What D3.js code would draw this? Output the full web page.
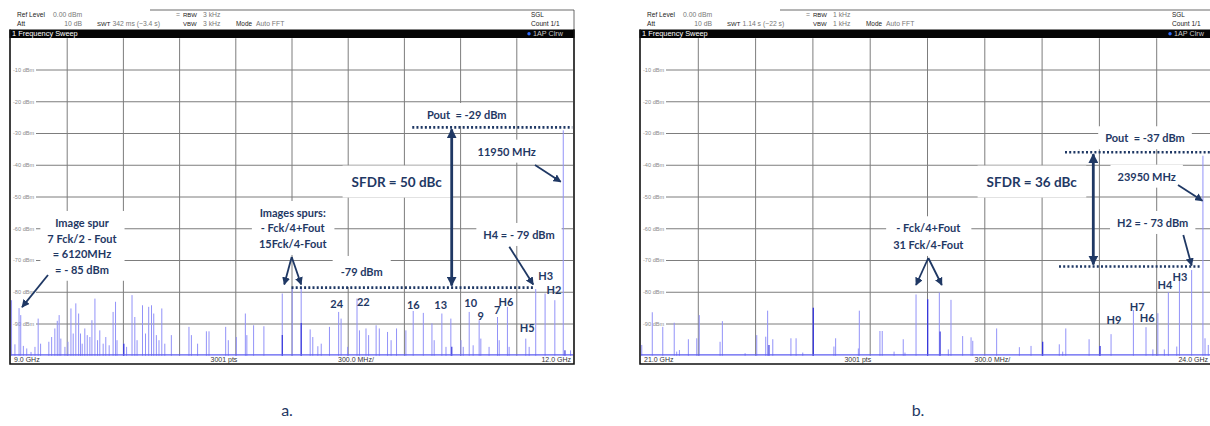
<!DOCTYPE html>
<html>
<head>
<meta charset="utf-8">
<script src="https://cdn.jsdelivr.net/npm/d3@7"></script>
<style>
  body { margin: 0; background: #fff; }
  svg { display: block; }
  .pre { white-space: pre; }
</style>
</head>
<body>
<svg id="chart" width="1210" height="426"></svg>
<script>
// ---------- Sweep a: 9.0 – 12.0 GHz ----------
const spurFreqA = [
  9.003, 9.021, 9.043, 9.052, 9.066, 9.084, 9.107, 9.128, 9.145, 9.158,
  9.202, 9.217, 9.234, 9.247, 9.257, 9.266, 9.288, 9.304, 9.320, 9.332,
  9.346, 9.361, 9.371, 9.380, 9.394, 9.407, 9.421, 9.432, 9.448, 9.462,
  9.474, 9.492, 9.506, 9.524, 9.545, 9.558, 9.566, 9.602, 9.617, 9.646,
  9.661, 9.673, 9.702, 9.718, 9.735, 9.750, 9.762, 9.776, 9.790, 9.805,
  9.821, 9.856, 9.950, 9.963, 9.996, 10.043, 10.057, 10.146, 10.160, 10.203,
  10.251, 10.259, 10.295, 10.350, 10.448, 10.501, 10.549, 10.597, 10.611, 10.638,
  10.656, 10.700, 10.749, 10.762, 10.797, 10.847, 10.860, 10.895, 10.909, 10.949,
  10.966, 11.010, 11.029, 11.058, 11.108, 11.147, 11.201, 11.247, 11.259, 11.300,
  11.322, 11.348, 11.402, 11.414, 11.446, 11.467, 11.499, 11.508, 11.552, 11.597,
  11.606, 11.650, 11.659, 11.748, 11.766, 11.801, 11.851, 11.903, 11.948, 11.987
];
const spurLevelA = [
  -82.5, -96.4, -85.0, -87.2, -96.9, -97.7, -98.8, -97.2, -88.3, -96.2,
  -95.6, -94.1, -91.4, -89.0, -87.2, -94.6, -97.2, -95.6, -85.1, -93.0,
  -83.5, -86.7, -93.0, -96.2, -91.4, -93.5, -94.1, -88.8, -82.0, -95.1,
  -92.0, -96.2, -94.1, -96.7, -86.2, -83.0, -95.1, -96.2, -97.2, -80.9,
  -87.8, -95.1, -84.1, -93.0, -84.6, -84.1, -86.7, -93.5, -95.1, -85.1,
  -96.2, -93.5, -90.9, -93.5, -96.2, -92.3, -92.3, -90.9, -95.1, -94.1,
  -86.7, -93.5, -90.4, -90.7, -80.4, -78.8, -78.5, -91.7, -94.1, -97.0,
  -96.2, -90.9, -86.2, -88.3, -97.2, -82.0, -92.0, -91.4, -93.5, -90.4,
  -91.4, -92.5, -95.1, -91.4, -92.0, -85.9, -86.5, -89.8, -95.1, -86.7,
  -97.2, -88.3, -95.1, -97.2, -86.2, -96.7, -88.8, -94.6, -97.2, -87.8,
  -95.1, -84.6, -97.2, -94.6, -97.2, -79.0, -80.4, -82.5, -29.0, -98.3
];
const denseFreqA  = [9.602, 10.448, 10.549, 11.353, 11.957];
const denseLevelA = [-96.2, -93.5, -89.7, -97.2, -98.3];

// ---------- Sweep b: 21.0 – 24.0 GHz ----------
const spurFreqB = [
  21.004, 21.059, 21.114, 21.174, 21.187, 21.201, 21.248, 21.292, 21.305, 21.414,
  21.426, 21.545, 21.606, 21.653, 21.663, 21.690, 21.785, 21.812, 21.847, 21.902,
  22.010, 22.019, 22.138, 22.143, 22.251, 22.263, 22.325, 22.373, 22.382, 22.440,
  22.501, 22.562, 22.609, 22.623, 22.684, 22.728, 22.737, 22.862, 22.981, 23.042,
  23.103, 23.190, 23.208, 23.224, 23.346, 23.403, 23.461, 23.578, 23.644, 23.680,
  23.706, 23.740, 23.761, 23.805, 23.819, 23.883, 23.942, 23.953, 23.970
];
const spurLevelB = [
  -96.6, -86.3, -90.9, -89.6, -98.7, -98.2, -94.8, -94.5, -87.2, -95.6,
  -89.1, -99.2, -93.5, -94.0, -85.8, -94.8, -94.5, -94.5, -99.0, -84.9,
  -97.1, -94.5, -97.7, -85.8, -92.2, -92.2, -98.7, -94.8, -99.0, -80.7,
  -82.2, -80.1, -98.0, -82.4, -93.8, -94.2, -95.3, -91.4, -97.3, -96.9,
  -95.6, -96.4, -98.7, -91.4, -94.8, -96.9, -93.2, -85.6, -91.0, -98.0,
  -86.6, -98.0, -80.0, -97.1, -76.4, -73.0, -37.0, -94.5, -96.6
];
const denseFreqB  = [21.670, 21.902, 22.501, 22.566, 23.103, 23.403];
const denseLevelB = [-96.6, -84.9, -82.2, -92.4, -95.6, -96.9];

// Reference-level grid (dBm) and analyzer settings
const levelTicks = [-10, -20, -30, -40, -50, -60, -70, -80, -90];
const settingsA = { swt: "342 ms (~3.4 s)", rbw: "3 kHz", vbw: "3 kHz", start: "9.0 GHz", stop: "12.0 GHz" };
const settingsB = { swt: "1.14 s (~22 s)",  rbw: "1 kHz", vbw: "1 kHz", start: "21.0 GHz", stop: "24.0 GHz" };

const NAVY = "#1f3864";
const W = 1210;
const svg = d3.select("#chart");
const defs = svg.append("defs");

function addMarker(id, w) {
  defs.append("marker")
    .attr("id", id).attr("viewBox", "0 0 10 10")
    .attr("refX", 9).attr("refY", 5)
    .attr("markerWidth", w).attr("markerHeight", w)
    .attr("markerUnits", "userSpaceOnUse")
    .attr("orient", "auto-start-reverse")
    .append("path").attr("d", "M0,0 L10,5 L0,10 z").attr("fill", NAVY);
}
addMarker("head", 8);
addMarker("headBig", 10);

function arrow(g, x1, y1, x2, y2, w, marker, both) {
  const l = g.append("line")
    .attr("x1", x1).attr("y1", y1).attr("x2", x2).attr("y2", y2)
    .attr("stroke", NAVY).attr("stroke-width", w)
    .attr("marker-end", `url(#${marker})`);
  if (both) l.attr("marker-start", `url(#${marker})`);
}

function dotted(g, x1, x2, yv) {
  g.append("line").attr("x1", x1).attr("x2", x2).attr("y1", yv).attr("y2", yv)
    .attr("stroke", NAVY).attr("stroke-width", 2.6).attr("stroke-dasharray", "2,2.2");
}

// Text with an opaque white box behind it (text-box style callouts)
function callout(g, lines, cx, cy, size, lh, boxed = true, padX = 7, padY = 5) {
  const grp = g.append("g");
  const t = grp.append("text")
    .attr("text-anchor", "middle")
    .attr("font-family", "Lato, 'Open Sans', sans-serif")
    .attr("font-weight", "bold")
    .attr("font-size", size)
    .attr("fill", NAVY)
    .attr("class", "pre");
  lines.forEach((s, i) => t.append("tspan").attr("x", cx).attr("y", cy + i * lh).attr("dy", "0.36em").text(s));
  if (boxed) {
    const bb = t.node().getBBox();
    grp.insert("rect", "text")
      .attr("x", bb.x - padX).attr("y", bb.y - padY)
      .attr("width", bb.width + 2 * padX).attr("height", bb.height + 2 * padY)
      .attr("fill", "#fff");
  }
  return grp;
}

function drawPanel(p) {
  const g = svg.append("g");
  const x = d3.scaleLinear().domain([p.fStart, p.fStop]).range([p.left, p.right]);
  const y = d3.scaleLinear().domain([-100, 0]).range([355.75, 38.25]);
  const L = p.left, R = p.right;
  const hf = "'Liberation Sans', Arial, sans-serif";

  // ----- header -----
  g.append("path")
    .attr("d", `M${L + 139},10 H${R + 1} V30`)
    .attr("fill", "none").attr("stroke", "#444").attr("stroke-width", 0.8);
  const head = g.append("g").attr("font-family", hf);
  const put = (tx, ty, s, col, size, anchor = "start") =>
    head.append("text").attr("x", tx).attr("y", ty).attr("fill", col)
      .attr("font-size", size)
      .attr("text-anchor", anchor).attr("class", "pre").text(s);
  const key = "#222", val = "#777";
  put(L + 6, 17, "Ref Level", key, 6.6);
  put(L + 42, 17, "0.00 dBm", val, 6.8);
  put(L + 6, 25.5, "Att", key, 6.6);
  put(L + 71, 25.5, "10 dB", val, 6.8, "end");
  put(L + 86, 25.5, "SWT", key, 6.0);
  put(L + 101.5, 25.5, p.settings.swt, val, 6.8);
  put(L + 165, 17, "=", val, 6.8);
  put(L + 172, 17, "RBW", key, 6.0);
  put(L + 192, 17, p.settings.rbw, val, 6.8);
  put(L + 172, 25.5, "VBW", key, 6.0);
  put(L + 192, 25.5, p.settings.vbw, val, 6.8);
  put(L + 225, 25.5, "Mode", key, 6.4);
  put(L + 245, 25.5, "Auto FFT", val, 6.8);
  put(R - 42, 17, "SGL", key, 6.4);
  put(R - 42, 25.5, "Count 1/1", key, 6.6);

  // title bar
  g.append("rect").attr("x", L - 1.5).attr("y", 29.5).attr("width", R - L + 3).attr("height", 8.5).attr("fill", "#050505");
  g.append("text").attr("x", L + 1).attr("y", 36.4).attr("font-family", hf).attr("font-size", 7.4)
    .attr("fill", "#fff").text("1 Frequency Sweep");
  g.append("circle").attr("cx", R - 44).attr("cy", 33.7).attr("r", 1.7).attr("fill", "#2f6bff");
  g.append("text").attr("x", R - 40).attr("y", 36.4).attr("font-family", hf).attr("font-size", 7.2)
    .attr("fill", "#c8c8c8").text("1AP Clrw");

  // ----- grid -----
  const grid = g.append("g").attr("stroke", "#7d7d7d").attr("stroke-width", 1);
  d3.range(1, 10).forEach(k => {
    const xv = x(p.fStart + k * (p.fStop - p.fStart) / 10);
    grid.append("line").attr("x1", xv).attr("x2", xv).attr("y1", y(0)).attr("y2", y(-100));
  });
  levelTicks.forEach(v => {
    grid.append("line").attr("x1", L + 25).attr("x2", R).attr("y1", y(v)).attr("y2", y(v));
    g.append("text").attr("x", L + 2).attr("y", y(v)).attr("dy", "0.35em")
      .attr("font-family", hf).attr("font-size", 5.6).attr("fill", "#8a8a8a")
      .text(`${v} dBm`);
  });

  // ----- trace -----
  const tr = g.append("g");
  tr.selectAll("line.spur").data(p.freq.map((f, i) => [f, p.level[i]])).join("line")
    .attr("class", "spur")
    .attr("x1", d => x(d[0])).attr("x2", d => x(d[0]))
    .attr("y1", y(-100)).attr("y2", d => y(d[1]))
    .attr("stroke", "#9292f8").attr("stroke-width", 1);
  tr.selectAll("line.dense").data(p.denseFreq.map((f, i) => [f, p.denseLevel[i]])).join("line")
    .attr("class", "dense")
    .attr("x1", d => x(d[0])).attr("x2", d => x(d[0]))
    .attr("y1", y(-100)).attr("y2", d => y(d[1]))
    .attr("stroke", "#2a2ad8").attr("stroke-width", 1.1);
  tr.append("line").attr("x1", L).attr("x2", R).attr("y1", y(-99.7)).attr("y2", y(-99.7))
    .attr("stroke", "#5c5cf0").attr("stroke-width", 1.2);

  // ----- frame & bottom labels -----
  g.append("path").attr("d", `M${L - 1},29.5 V364 H${R + 1} V29.5`)
    .attr("fill", "none").attr("stroke", "#111").attr("stroke-width", 1.6);
  const bl = g.append("g").attr("font-family", hf).attr("font-size", 7).attr("fill", "#333");
  bl.append("text").attr("x", L + 3).attr("y", 362.3).text(p.settings.start);
  bl.append("text").attr("x", L + (R - L) * 0.355).attr("y", 362.3).text("3001 pts");
  bl.append("text").attr("x", L + (R - L) * 0.582).attr("y", 362.3).text("300.0 MHz/");
  bl.append("text").attr("x", Math.min(R - 2, W - 2)).attr("y", 362.3).attr("text-anchor", "end").text(p.settings.stop);

  return { g, x, y };
}

// ===== Panel a =====
{
  const { g, x, y } = drawPanel({
    fStart: 9, fStop: 12, left: 11, right: 573, settings: settingsA,
    freq: spurFreqA, level: spurLevelA, denseFreq: denseFreqA, denseLevel: denseLevelA
  });
  const pout = -29, h4 = -79, img = -85;
  const yTop = y(pout) - 3, yDot = y(h4) - 1.5;
  const fFund = 11.948;

  callout(g, ["Image spur", "7 Fck/2 - Fout", "= 6120MHz", `= - ${-img} dBm`], 82, 223, 11, 15.6);
  callout(g, ["Images spurs:", "- Fck/4+Fout", "15Fck/4-Fout"], 292.7, 213, 11, 15.5);
  callout(g, ["SFDR = 50 dBc"], 396.7, 181.7, 13.5, 0, true, 9, 8);
  callout(g, [`Pout  = ${pout} dBm`], 466.7, 115, 11, 0);
  callout(g, ["11950 MHz"], 506.7, 151.7, 11, 0);
  callout(g, [`H4 = - ${-h4} dBm`], 519, 235, 11, 0);
  callout(g, [`${h4} dBm`], 361.7, 272, 11, 0, true, 8, 9);

  const tags = [["24", 336.7, 304.3], ["22", 363.3, 302], ["16", 413.3, 305], ["13", 440.7, 305],
                ["10", 470.7, 303], ["9", 480.7, 316], ["7", 497.3, 310], ["H6", 506, 302],
                ["H5", 527.3, 328], ["H3", 545.7, 276], ["H2", 554, 290]];
  tags.forEach(t => callout(g, [t[0]], t[1], t[2], 11, 0, false));

  dotted(g, x(fFund) - 151, x(fFund) + 9, yTop);
  dotted(g, 291.5, x(11.801) - 2, yDot);
  arrow(g, 451.7, yTop + 2, 451.7, yDot - 2, 2.8, "headBig", true);

  arrow(g, 48, 275, x(9.043) + 3, y(img) - 1, 1.8, "head");
  arrow(g, 291.7, 257, x(10.448) + 2, yDot - 3, 1.8, "head");
  arrow(g, 291.7, 257, x(10.549), yDot - 3, 1.8, "head");
  arrow(g, 535, 165, x(fFund) - 2.5, 181.7, 1.8, "head");
  arrow(g, 509.3, 246.7, x(11.801) - 2.5, yDot - 3, 1.8, "head");
}

// ===== Panel b =====
{
  const { g, x, y } = drawPanel({
    fStart: 21, fStop: 24, left: 641, right: 1214, settings: settingsB,
    freq: spurFreqB, level: spurLevelB, denseFreq: denseFreqB, denseLevel: denseLevelB
  });
  const pout = -37, h2 = -73;
  const yTop = y(pout) - 3.5, yDot = y(h2) - 3.5;
  const fFund = 23.942, fH2 = 23.883;

  callout(g, [`Pout  = ${pout} dBm`], 1145, 138.3, 11, 0);
  callout(g, ["SFDR = 36 dBc"], 1031.7, 181.7, 13.5, 0, true, 9, 8);
  callout(g, ["23950 MHz"], 1146.7, 176.7, 11, 0);
  callout(g, [`H2 = - ${-h2} dBm`], 1152.7, 223, 11, 0);
  callout(g, ["- Fck/4+Fout", "31 Fck/4-Fout"], 928.3, 228.3, 11, 16.7);

  const tags = [["H9", 1114, 320], ["H7", 1137.3, 307.3], ["H6", 1147.3, 318.3],
                ["H4", 1165, 285], ["H3", 1180, 277.3]];
  tags.forEach(t => callout(g, [t[0]], t[1], t[2], 11, 0, false));

  dotted(g, 1065, 1212, yTop);
  dotted(g, 1059, x(fH2) + 10, yDot);
  arrow(g, 1093.3, yTop + 2, 1093.3, yDot - 2, 2.8, "headBig", true);

  arrow(g, 928.3, 258, x(22.440), 285, 1.8, "head");
  arrow(g, 928.3, 258, x(22.562) + 2.5, 285, 1.8, "head");
  arrow(g, 1178, 185, x(fFund) - 0.5, 200.7, 1.8, "head");
  arrow(g, 1183.3, 235, x(fH2), yDot - 1, 1.8, "head");
}

// Figure captions
svg.append("text").attr("x", 287).attr("y", 416).attr("text-anchor", "middle")
  .attr("font-family", "Lato, 'Open Sans', sans-serif").attr("font-size", 16).attr("fill", NAVY).text("a.");
svg.append("text").attr("x", 918).attr("y", 416).attr("text-anchor", "middle")
  .attr("font-family", "Lato, 'Open Sans', sans-serif").attr("font-size", 16).attr("fill", NAVY).text("b.");
</script>
</body>
</html>
